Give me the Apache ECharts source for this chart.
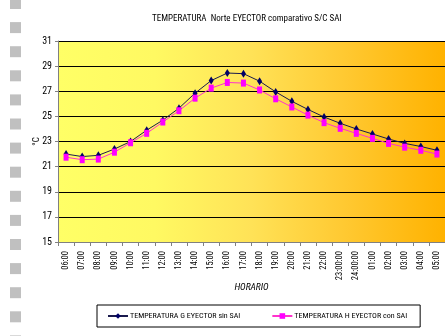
<!DOCTYPE html>
<html>
<head>
<meta charset="utf-8">
<script src="https://cdn.jsdelivr.net/npm/echarts@6/dist/echarts.min.js"></script>
<style>html,body{margin:0;padding:0;background:#fff;}#c{width:445px;height:336px;}</style>
</head>
<body>
<div id="c"></div>
<script>
var categories = ['06:00','07:00','08:00','09:00','10:00','11:00','12:00','13:00','14:00','15:00','16:00','17:00','18:00','19:00','20:00','21:00','22:00','23:00:00','24:00:00','01:00','02:00','03:00','04:00','05:00'];
var tempG = [22.0,21.8,21.9,22.4,23.0,23.9,24.7,25.65,26.85,27.85,28.45,28.4,27.8,26.95,26.2,25.55,24.95,24.45,24.0,23.6,23.2,22.85,22.6,22.3];
var tempH = [21.75,21.55,21.6,22.15,22.9,23.65,24.55,25.45,26.45,27.25,27.7,27.65,27.1,26.4,25.75,25.1,24.5,24.05,23.65,23.25,22.85,22.55,22.3,22.0];
var yTicks = {min: 15, max: 31, interval: 2};
var titleText = 'TEMPERATURA  Norte EYECTOR comparativo S/C SAI';
var nameG = 'TEMPERATURA G EYECTOR sin SAI';
var nameH = 'TEMPERATURA H EYECTOR con SAI';

var FONT = "'Roboto Condensed','Liberation Sans',sans-serif";
var squares = [];
for (var i = 0; i < 15; i++) {
  squares.push({type:'rect', shape:{x:10, y:-2 + 24.1*i, width:11, height:11}, style:{fill:'#C0C0C0'}, silent:true});
}
var chart = echarts.init(document.getElementById('c'), null, {renderer:'canvas'});
chart.setOption({
  animation:false,
  backgroundColor:'#ffffff',
  textStyle:{fontFamily:FONT},
  graphic: squares,
  title:{text:titleText, left:147, top:9, textStyle:{fontSize:9, fontWeight:'normal', color:'#000', fontFamily:FONT}},
  legend:{
    left:97, top:305, padding:[7,13,7,10], itemGap:31, itemWidth:20, itemHeight:7,
    borderColor:'#000', borderWidth:1,
    textStyle:{fontSize:8, color:'#000', fontFamily:FONT, padding:[0,0,0,-3]},
    data:[nameG, nameH]
  },
  grid:{left:58, top:41, right:0, bottom:94, show:true, borderWidth:0,
    backgroundColor:{type:'linear', x:0, y:0, x2:1, y2:0, colorStops:[
      {offset:0, color:'#FFFF66'}, {offset:0.25, color:'#FFF962'}, {offset:0.5, color:'#FFE257'},
      {offset:0.75, color:'#FFC830'}, {offset:1, color:'#FFB200'}]}},
  xAxis:{
    type:'category', data:categories, boundaryGap:true,
    name:'HORARIO', nameLocation:'middle', nameGap:41, nameMoveOverlap:false,
    nameTextStyle:{fontSize:9.5, fontStyle:'italic', color:'#000', fontFamily:FONT},
    axisLine:{lineStyle:{color:'#808080'}},
    axisTick:{show:true, length:4, lineStyle:{color:'#808080'}},
    axisLabel:{rotate:90, interval:0, fontSize:8.5, color:'#000', margin:9, fontFamily:FONT},
    splitLine:{show:false}
  },
  yAxis:{
    type:'value', min:yTicks.min, max:yTicks.max, interval:yTicks.interval,
    name:'°C', nameLocation:'middle', nameGap:17, nameMoveOverlap:false,
    nameTextStyle:{fontSize:9, color:'#000', fontFamily:FONT},
    axisLine:{show:true, lineStyle:{color:'#808080'}},
    axisTick:{show:true, length:3, lineStyle:{color:'#808080'}},
    axisLabel:{fontSize:10, color:'#000', margin:6, fontFamily:FONT},
    splitLine:{show:true, lineStyle:{color:'#000', width:1}}
  },
  series:[
    {name:nameG, type:'line', data:tempG, symbol:'diamond', symbolSize:[5,8],
     itemStyle:{color:'#000066'}, lineStyle:{color:'#1a1a4d', width:1}},
    {name:nameH, type:'line', data:tempH, symbol:'rect', symbolSize:[5,7],
     itemStyle:{color:'#FF00FF'}, lineStyle:{color:'#FF33CC', width:1}}
  ]
});
</script>
</body>
</html>
